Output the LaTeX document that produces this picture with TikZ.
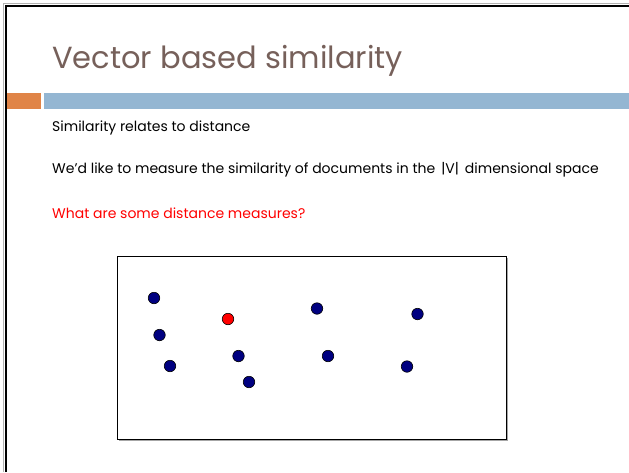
\documentclass[tikz,border=0pt]{standalone}
\usepackage{fontspec}
\setmainfont{Poppins}
\usepackage{tikz}
\usetikzlibrary{positioning}

\definecolor{titlebrown}{HTML}{76605A}
\definecolor{accentorange}{HTML}{E08447}
\definecolor{accentblue}{HTML}{94B6D2}
\definecolor{docblue}{HTML}{000080}

\begin{document}
\begin{tikzpicture}[
    x=1pt, y=-1pt,
    doc/.style={circle, draw=black, line width=0.6pt, fill=docblue, inner sep=0pt, minimum size=11.5pt},
    query/.style={doc, fill=red},
    bodytext/.style={font=\fontsize{14}{16}\selectfont, anchor=base west, inner sep=0pt},
]
  \useasboundingbox (0,0) rectangle (629,472);

  % Slide frame
  \draw[gray!60, line width=0.8pt] (3.5,472) -- (3.5,3.5) -- (629,3.5);
  \draw[black, line width=2pt] (5.5,472) -- (5.5,5.5) -- (629,5.5);

  % Title
  \node[font=\fontsize{30.5}{36}\selectfont, text=titlebrown, anchor=base west, inner sep=0pt] (title) at (52,68) {Vector based similarity};

  % Accent bars
  \fill[accentorange] (6.5,93) rectangle (41,109);
  \fill[accentblue] (44,93) rectangle (629,109);

  % Bullet lines
  \node[bodytext] (line1) at (52,131) {Similarity relates to distance};
  \node[bodytext] (line2) at (52,173) {We’d like to measure the similarity of documents in the \,|V|\, dimensional space};
  \node[bodytext, text=red] (line3) at (52,218) {What are some distance measures?};

  % Document space
  \fill[gray!70] (119,258) rectangle (508,441);
  \draw[black, line width=0.6pt, fill=white] (117,256) rectangle (506,439);

  \node[doc] (d1) at (154,298) {};
  \node[doc] (d2) at (159.5,335) {};
  \node[doc] (d3) at (170,366) {};
  \node[query] (q) at (228,319) {};
  \node[doc] (d4) at (238.5,356) {};
  \node[doc] (d5) at (249,382) {};
  \node[doc] (d6) at (317,308.5) {};
  \node[doc] (d7) at (328,356) {};
  \node[doc] (d8) at (417.5,314) {};
  \node[doc] (d9) at (407,366.5) {};
\end{tikzpicture}
\end{document}
